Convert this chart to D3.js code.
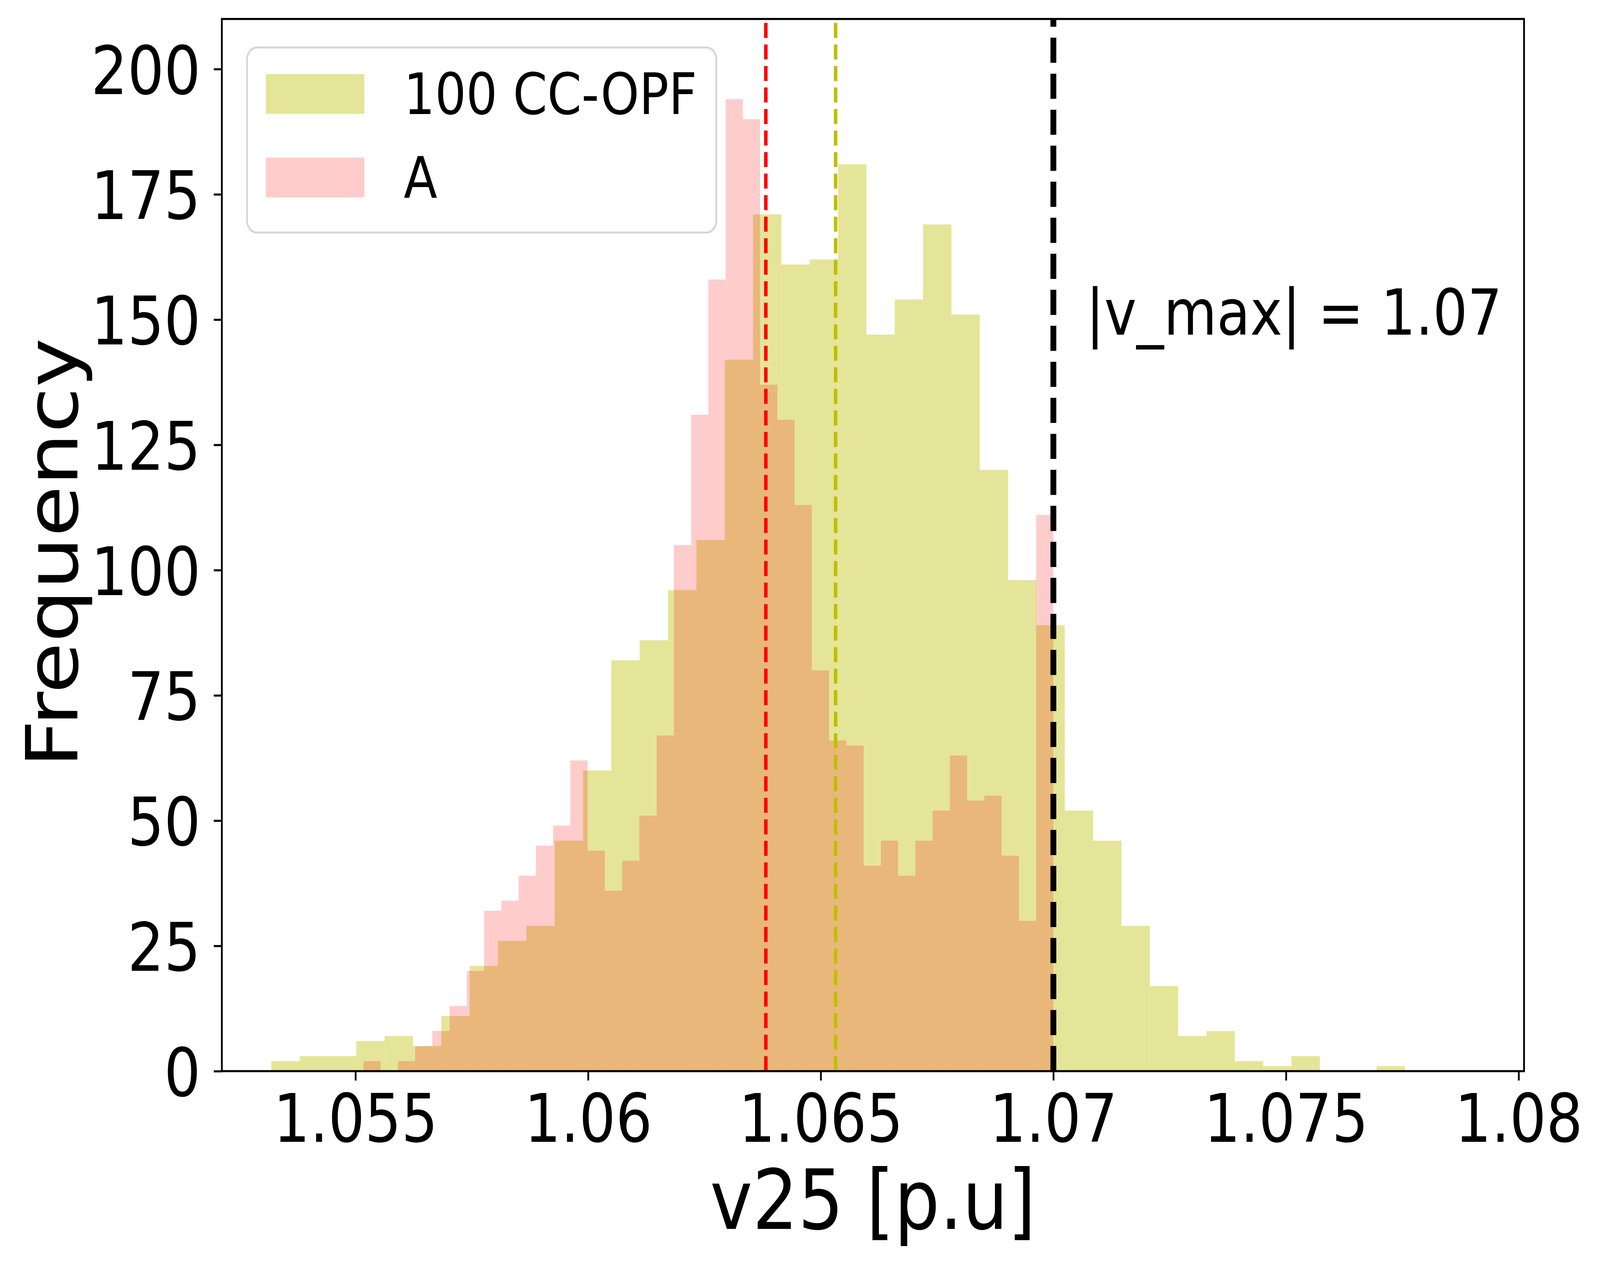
<!DOCTYPE html>
<html>
<head>
<meta charset="utf-8">
<script src="https://cdn.jsdelivr.net/npm/d3@7"></script>
<style>
  html, body { margin: 0; padding: 0; width: 100%; height: 100%; overflow: hidden; background: #fff; }
  #hist { width: 100vw; height: 100vh; }
  svg { display: block; font-family: "DejaVu Sans", sans-serif; }
</style>
</head>
<body>
<div id="hist"></div>
<script>
// histogram counts, 40 equal bins each
const ccopfCounts = [2, 3, 3, 6, 7, 5, 11, 21, 26, 29, 46, 60, 82, 86, 96, 106, 142, 171, 161, 162,
    181, 147, 154, 169, 151, 120, 98, 89, 52, 46, 29, 17, 7, 8, 2, 1, 3, 0, 0, 1];
const aCounts = [2, 0, 2, 5, 8, 13, 20, 32, 34, 39, 45, 49, 62, 44, 36, 42, 51, 67, 105, 131,
    158, 194, 190, 137, 130, 113, 80, 66, 65, 41, 46, 39, 46, 52, 63, 54, 55, 43, 30, 111];
// first and last bin edge of each histogram
const ccopfRange = [1.05319, 1.077555];
const aRange = [1.05517, 1.0700];
// means (dashed lines) and the limit
const ccopfMean = 1.06532;
const aMean = 1.06382;
const vMax = 1.07;
const seriesNames = ["100 CC-OPF", "A"];
const xTicks = [1.055, 1.06, 1.065, 1.07, 1.075, 1.08];
const xTickLabels = ["1.055", "1.06", "1.065", "1.07", "1.075", "1.08"];
const yTicks = [0, 25, 50, 75, 100, 125, 150, 175, 200];

function main() {

    const canvasWidth = 4760;
    const canvasHeight = 3242;
    const m = { left: 660, right: 4534, top: 48.6, bottom: 2743 };
    const lw = 5.3;

    // drawn in a 4760x3242 frame, stretched over the whole window
    const svg = d3.select("#hist").append("svg")
        .attr("width", "100%")
        .attr("height", "100%")
        .attr("viewBox", `0 0 ${canvasWidth} ${canvasHeight}`)
        .attr("preserveAspectRatio", "none")

    const x = d3.scaleLinear().domain([1.052128, 1.080116]).range([m.left, m.right])
    const y = d3.scaleLinear().domain([0, 210]).range([m.bottom, m.top])

    function bins(counts, range) {
        const w = (range[1] - range[0]) / counts.length;
        return counts.map((c, i) => ({ x0: range[0] + i * w, x1: range[0] + (i + 1) * w, n: c }));
    }

    const series = [
        { name: seriesNames[0], bins: bins(ccopfCounts, ccopfRange), color: "#bfbf00", alpha: 0.4 },
        { name: seriesNames[1], bins: bins(aCounts, aRange), color: "#ff0000", alpha: 0.2 }
    ];

    series.forEach(s => {
        svg.append("g")
            .attr("fill", s.color)
            .attr("fill-opacity", s.alpha)
            .selectAll("rect")
            .data(s.bins.filter(b => b.n > 0))
            .enter().append("rect")
            .attr("x", d => x(d.x0))
            .attr("width", d => x(d.x1) - x(d.x0))
            .attr("y", d => y(d.n))
            .attr("height", d => y(0) - y(d.n))
    });

    // vertical dashed lines, drawn bottom to top like axvline
    const vlines = [
        { v: aMean, color: "#ff0000", w: 10.4 },
        { v: ccopfMean, color: "#bfbf00", w: 10.4 },
        { v: vMax, color: "#000000", w: 17.4 }
    ];
    svg.append("g").selectAll("line")
        .data(vlines)
        .enter().append("line")
        .attr("x1", d => x(d.v)).attr("x2", d => x(d.v))
        .attr("y1", m.bottom).attr("y2", m.top)
        .attr("stroke", d => d.color)
        .attr("stroke-width", d => d.w)
        .attr("stroke-dasharray", d => (3.7 * d.w) + "," + (1.6 * d.w))

    svg.append("text")
        .attr("x", x(1.0707))
        .attr("y", y(147))
        .attr("font-size", 162)
        .attr("fill", "#000")
        .text("|v_max| = 1.07")

    // axes
    const xAxis = svg.append("g")
        .attr("transform", `translate(0,${m.bottom})`)
        .call(d3.axisBottom(x)
            .tickValues(xTicks)
            .tickFormat((d, i) => xTickLabels[i])
            .tickSize(24)
            .tickPadding(36))
    const yAxis = svg.append("g")
        .attr("transform", `translate(${m.left},0)`)
        .call(d3.axisLeft(y)
            .tickValues(yTicks)
            .tickSize(24)
            .tickPadding(39))

    ;[xAxis, yAxis].forEach(g => {
        g.select(".domain").remove();
        g.attr("font-size", 171).attr("font-family", "DejaVu Sans");
        g.selectAll(".tick line").attr("stroke", "#000").attr("stroke-width", lw);
        g.selectAll(".tick text").attr("fill", "#000");
    });
    yAxis.selectAll(".tick text").attr("dy", "0.37em");

    svg.append("rect")
        .attr("x", m.left).attr("y", m.top)
        .attr("width", m.right - m.left).attr("height", m.bottom - m.top)
        .attr("fill", "none")
        .attr("stroke", "#000")
        .attr("stroke-width", lw)

    svg.append("text")
        .attr("x", (m.left + m.right) / 2)
        .attr("y", 3147)
        .attr("text-anchor", "middle")
        .attr("font-size", 213)
        .text("v25 [p.u]")

    svg.append("text")
        .attr("transform", `translate(230,${(m.top + m.bottom) / 2 + 20}) rotate(-90)`)
        .attr("text-anchor", "middle")
        .attr("font-size", 213)
        .text("Frequency")

    // legend
    const legend = svg.append("g")
        .attr("transform", `translate(${m.left + 75},${m.top + 73})`)
    legend.append("rect")
        .attr("width", 1396).attr("height", 474)
        .attr("rx", 30).attr("ry", 30)
        .attr("fill", "#fff").attr("fill-opacity", 0.8)
        .attr("stroke", "#d6d6d6").attr("stroke-width", lw)

    const items = legend.selectAll(".item")
        .data(series)
        .enter().append("g")
        .attr("class", "item")
        .attr("transform", (d, i) => `translate(56,${68 + i * 214})`)
    items.append("rect")
        .attr("width", 293).attr("height", 102)
        .attr("fill", d => d.color)
        .attr("fill-opacity", d => d.alpha)
    items.append("text")
        .attr("x", 410)
        .attr("y", 102)
        .attr("font-size", 146)
        .text(d => d.name)
}
main();
</script>
</body>
</html>
